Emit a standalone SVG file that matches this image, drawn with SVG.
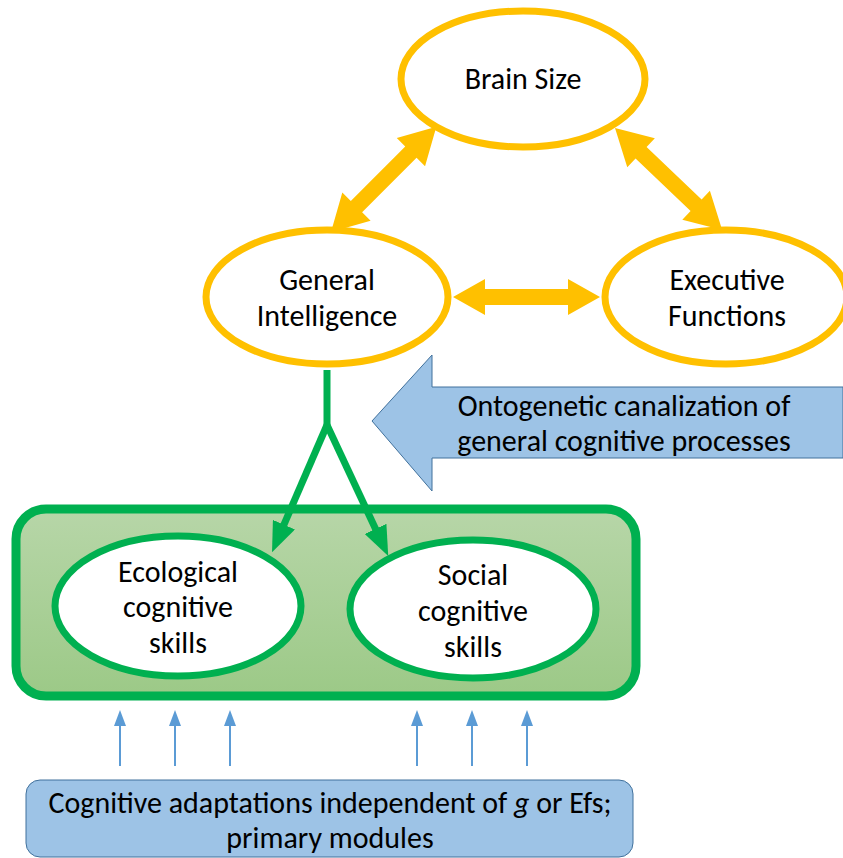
<svg xmlns="http://www.w3.org/2000/svg" width="843" height="858" viewBox="0 0 843 858">
<defs>
<style>
.yel{fill:#fff;stroke:#FFC000;stroke-width:7}
.grn{fill:#fff;stroke:#00B050;stroke-width:7}
.t{font-family:Carlito,"Liberation Sans",Arial,sans-serif;font-size:30px;fill:#000;text-anchor:middle}
.ya{fill:#FFC000}
.gl{stroke:#00B050;stroke-width:7;fill:none}
.bl{stroke:#5B9BD5;stroke-width:2;fill:none}
</style>
<linearGradient id="gg" x1="0" y1="0" x2="0" y2="1">
<stop offset="0" stop-color="#B7D6A8"/>
<stop offset="1" stop-color="#9CC987"/>
</linearGradient>
<marker id="ga" markerWidth="30" markerHeight="24" refX="20" refY="12" orient="auto" markerUnits="userSpaceOnUse">
<path d="M0,0 L30,12 L0,24 z" fill="#00B050"/>
</marker>
<marker id="ba" markerWidth="8" markerHeight="8" refX="5" refY="4" orient="auto" markerUnits="strokeWidth">
<path d="M0,1 L8,4 L0,7 z" fill="#5B9BD5"/>
</marker>
</defs>

<g id="skills-box">
<rect x="16" y="509" width="620" height="187" rx="30" fill="url(#gg)" stroke="#00B050" stroke-width="9"/>
</g>

<g id="connectors">
<polygon class="ya" transform="translate(331,232) rotate(-45)" points="0,0 36,-20 36,-8 113,-8 113,-20 149,0 113,20 113,8 36,8 36,20"/>
<polygon class="ya" transform="translate(615,128) rotate(43.6)" points="0,0 36,-20 36,-8 112,-8 112,-20 148,0 112,20 112,8 36,8 36,20"/>
<polygon class="ya" points="453,297 485,279 485,289 568,289 568,279 600,297 568,315 568,305 485,305 485,315"/>
<path class="gl" d="M327,370 L327,425"/>
<path class="gl" d="M327,425 L276,543" marker-end="url(#ga)"/>
<path class="gl" d="M327,425 L384,547" marker-end="url(#ga)"/>
<path class="bl" d="M120,766 L120,716" marker-end="url(#ba)"/>
<path class="bl" d="M175,766 L175,716" marker-end="url(#ba)"/>
<path class="bl" d="M230,766 L230,716" marker-end="url(#ba)"/>
<path class="bl" d="M417,766 L417,716" marker-end="url(#ba)"/>
<path class="bl" d="M472,766 L472,716" marker-end="url(#ba)"/>
<path class="bl" d="M527,766 L527,716" marker-end="url(#ba)"/>
</g>

<g id="brain-size">
<ellipse class="yel" cx="523" cy="79" rx="122" ry="68"/>
<text class="t" x="523" y="89">Brain Size</text>
</g>

<g id="general-intelligence">
<ellipse class="yel" cx="327" cy="297" rx="121" ry="67"/>
<text class="t" x="327" y="290">General</text>
<text class="t" x="327" y="326">Intelligence</text>
</g>

<g id="executive-functions">
<ellipse class="yel" cx="726" cy="297" rx="121" ry="67"/>
<text class="t" x="727" y="290">Executive</text>
<text class="t" x="727" y="326">Functions</text>
</g>

<g id="ontogenetic">
<polygon points="372,421 432,355 432,387 843,387 843,458 432,458 432,491" fill="#9DC3E6" stroke="#41719C" stroke-width="1"/>
<text class="t" x="624" y="416">Ontogenetic canalization of</text>
<text class="t" x="624" y="451">general cognitive processes</text>
</g>

<g id="ecological">
<ellipse class="grn" cx="178" cy="606" rx="123" ry="70"/>
<text class="t" x="178" y="582">Ecological</text>
<text class="t" x="178" y="617">cognitive</text>
<text class="t" x="178" y="653">skills</text>
</g>

<g id="social">
<ellipse class="grn" cx="473" cy="609" rx="123" ry="69"/>
<text class="t" x="473" y="585">Social</text>
<text class="t" x="473" y="621">cognitive</text>
<text class="t" x="473" y="657">skills</text>
</g>

<g id="modules">
<rect x="26" y="780" width="607" height="77" rx="14" fill="#9DC3E6" stroke="#41719C" stroke-width="1"/>
<text class="t" x="330" y="813">Cognitive adaptations independent of <tspan font-style="italic">g</tspan> or Efs;</text>
<text class="t" x="330" y="848">primary modules</text>
</g>
</svg>
